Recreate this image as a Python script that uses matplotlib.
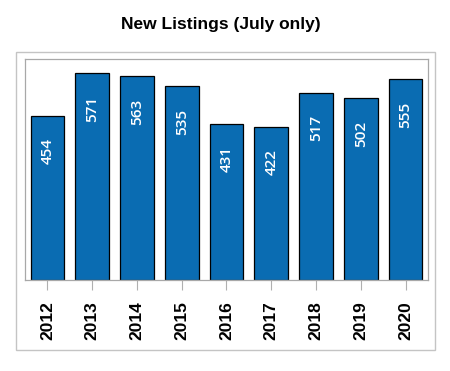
import matplotlib.pyplot as plt
from matplotlib.patches import Rectangle

years = ['2012', '2013', '2014', '2015', '2016', '2017', '2018', '2019', '2020']
listings = [454, 571, 563, 535, 431, 422, 517, 502, 555]

fig = plt.figure(figsize=(4.5, 3.71), dpi=100)
ax = fig.add_axes([0.0556, 0.2453, 0.8954, 0.5957])

x = range(len(years))
bars = ax.bar(x, listings, width=0.75, color='#0a6cb2', edgecolor='black', lw=0.9, zorder=2)
for i, v in enumerate(listings):
    ax.annotate(str(v), xy=(i, v), xytext=(0, -16), textcoords='offset points',
                ha='center', va='top', rotation=90, color='white', fontsize=11,
                fontweight='semibold', family=['Open Sans', 'DejaVu Sans'])

ax.set_xlim(-0.5, 8.5)
ax.set_ylim(0, 611)
ax.set_xticks(list(x))
ax.set_xticklabels(years, rotation=90, fontsize=12.5, fontweight='bold',
                   family=['Liberation Sans', 'DejaVu Sans'])
ax.set_yticks([])
ax.tick_params(axis='x', length=7, width=0.8, color='#b0b0b0', pad=8)
for s in ax.spines.values():
    s.set_color('#a8a8a8')
    s.set_linewidth(0.9)

# outer frame around the chart
fig.patches.append(Rectangle((0.0356, 0.0553), 0.931, 0.8046, transform=fig.transFigure,
                             fill=False, edgecolor='#c4c4c4', lw=1.0))

fig.text(0.49, 0.933, 'New Listings (July only)', ha='center', va='center',
         fontsize=12.5, fontweight='bold', family=['Liberation Sans', 'DejaVu Sans'])

fig.savefig('out.png', facecolor='white')
